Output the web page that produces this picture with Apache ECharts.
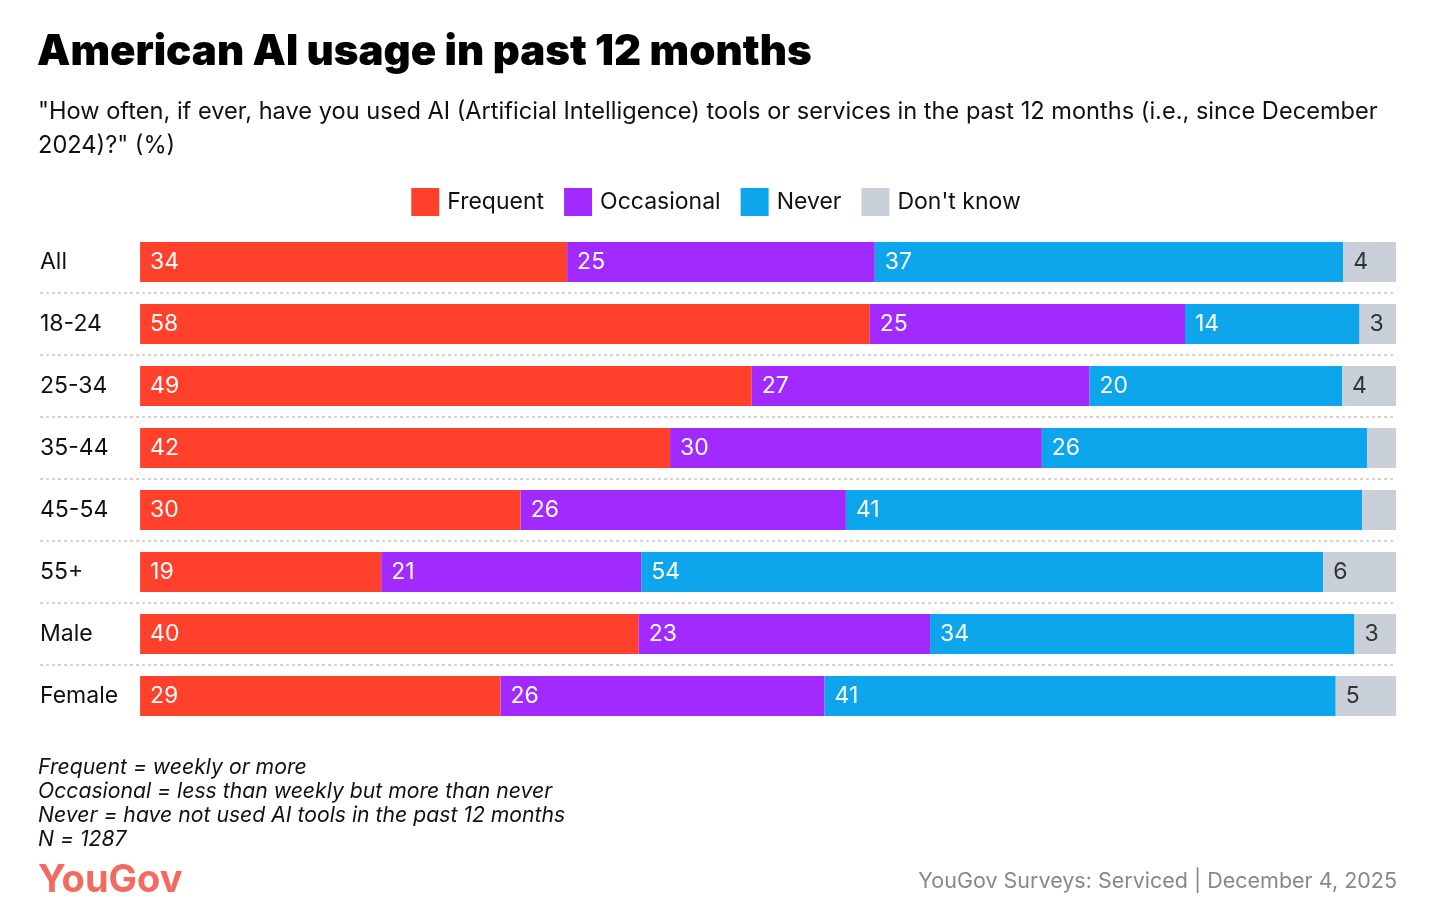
<!DOCTYPE html>
<html><head><meta charset="utf-8">
<script src="https://cdn.jsdelivr.net/npm/echarts@6/dist/echarts.min.js"></script>
<style>html,body{margin:0;padding:0;background:#fff}#c{width:1432px;height:912px}</style>
</head><body><div id="c"></div>
<script>
const categories = ['All','18-24','25-34','35-44','45-54','55+','Male','Female'];
const frequent   = [34.0, 58.1, 48.7, 42.2, 30.3, 19.2, 39.7, 28.7];
const occasional = [24.5, 25.1, 26.9, 29.6, 25.9, 20.7, 23.2, 25.8];
const never      = [37.3, 13.9, 20.1, 25.9, 41.1, 54.3, 33.8, 40.7];
const dontKnow   = [4.2, 2.9, 4.3, 2.3, 2.7, 5.8, 3.3, 4.8];
const frequentLabels   = ['34','58','49','42','30','19','40','29'];
const occasionalLabels = ['25','25','27','30','26','21','23','26'];
const neverLabels      = ['37','14','20','26','41','54','34','41'];
const dontKnowLabels   = ['4','3','4','','','6','3','5'];

const FONT = 'Inter, "Noto Sans", sans-serif';
const chart = echarts.init(document.getElementById('c'), null, {renderer:'canvas'});

function mk(name, data, labels, color, textColor){
  return {
    name, type:'bar', stack:'t', data, barWidth:40,
    itemStyle:{color},
    label:{show:true, position:'insideLeft', distance:10, color:textColor,
      fontFamily:FONT, fontSize:23,
      formatter:p=>labels[p.dataIndex]},
    emphasis:{disabled:true}
  };
}

chart.setOption({
  animation:false,
  textStyle:{fontFamily:FONT},
  title:[
    {text:'American AI usage in past 12 months', left:32, top:26,
      textStyle:{fontFamily:FONT, fontWeight:900, fontSize:42, color:'#000'}},
    {text:'"How often, if ever, have you used AI (Artificial Intelligence) tools or services in the past 12 months (i.e., since December\n2024)?" (%)', left:33, top:90,
      textStyle:{fontFamily:FONT, fontWeight:400, fontSize:23.6, lineHeight:34, color:'#111'}},
    {text:'Frequent = weekly or more\nOccasional = less than weekly but more than never\nNever = have not used AI tools in the past 12 months\nN = 1287', left:33, top:751,
      textStyle:{fontFamily:FONT, fontStyle:'italic', fontWeight:400, fontSize:21.2, lineHeight:24, color:'#111'}},
    {text:'YouGov', left:33, top:857,
      textStyle:{fontFamily:FONT, fontWeight:700, fontSize:38, color:'#F26B5E', letterSpacing:-1}},
    {text:'YouGov Surveys: Serviced | December 4, 2025', right:30, top:866,
      textStyle:{fontFamily:FONT, fontWeight:400, fontSize:21.5, color:'#888'}}
  ],
  legend:{top:183, left:'center', itemWidth:28, itemHeight:28, itemGap:20, icon:'rect',
    textStyle:{fontFamily:FONT, fontSize:23, color:'#111', padding:[0,0,0,3]},
    data:['Frequent','Occasional','Never',"Don't know"]},
  grid:{left:40, right:36, top:231, bottom:185, containLabel:false},
  xAxis:{type:'value', min:-7.97, max:100, show:false},
  yAxis:{type:'category', data:categories, inverse:true,
    axisLine:{show:false}, axisTick:{show:false},
    axisLabel:{inside:true, margin:0, color:'#111', fontFamily:FONT, fontSize:23},
    splitLine:{show:true, showMinLine:false, showMaxLine:false,
      lineStyle:{color:'#d4d4d4', type:[3,3], width:2}}
  },
  series:[
    mk('Frequent', frequent, frequentLabels, '#FF412C', '#fff'),
    mk('Occasional', occasional, occasionalLabels, '#A02AFF', '#fff'),
    mk('Never', never, neverLabels, '#0DA5EB', '#fff'),
    mk("Don't know", dontKnow, dontKnowLabels, '#C9D0DA', '#333')
  ]
});
</script></body></html>
